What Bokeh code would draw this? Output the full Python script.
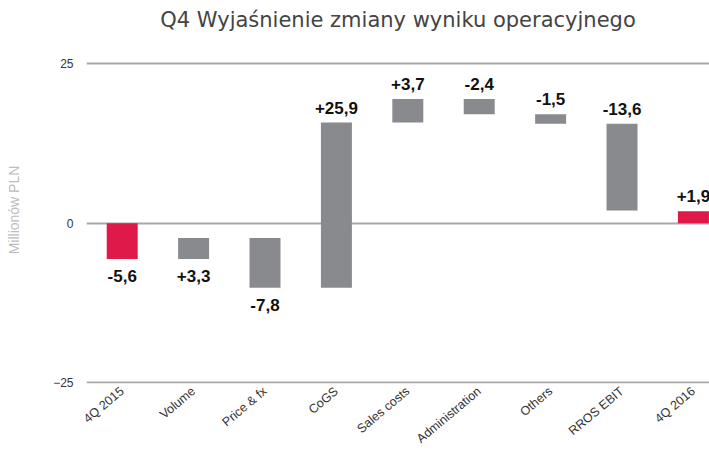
import math
from bokeh.plotting import figure
from bokeh.models import ColumnDataSource, FixedTicker, Range1d
from bokeh.core.properties import value
from bokeh.embed import file_html
from bokeh.resources import INLINE

# ---- data ----
categories = ["4Q 2015", "Volume", "Price & fx", "CoGS", "Sales costs",
              "Administration", "Others", "RROS EBIT", "4Q 2016"]
changes = [-5.6, 3.3, -7.8, 25.9, 3.7, -2.4, -1.5, -13.6, 1.9]
is_total = [True, False, False, False, False, False, False, False, True]
y_ticks = [-25, 0, 25]
title_text = "Q4 Wyjaśnienie zmiany wyniku operacyjnego"
y_title = "Millionów PLN"

# ---- waterfall geometry from the data ----
bottoms, tops = [], []
running = 0.0
for c, tot in zip(changes, is_total):
    if tot:
        b, t = 0.0, c
        running = c
    else:
        b, t = running, running + c
        running = running + c
    bottoms.append(b)
    tops.append(t)

RED = "#e0194b"
GREY = "#898a8e"
xs = list(range(len(categories)))
colors = [RED if t else GREY for t in is_total]
labels = [("+" if c > 0 else "-") + f"{abs(c):.1f}".replace(".", ",") for c in changes]
label_y, label_off = [], []
for b, t in zip(bottoms, tops):
    hi, lo = max(b, t), min(b, t)
    if hi > 0:
        label_y.append(hi)
        label_off.append(-15)
    else:
        label_y.append(lo)
        label_off.append(17)

src = ColumnDataSource(dict(x=xs, bottom=bottoms, top=tops, color=colors,
                            label=labels, ly=label_y, loff=label_off))

p = figure(width=709, height=454, output_backend="svg", toolbar_location=None,
           x_range=Range1d(-0.5, 8.225), y_range=Range1d(-25.12, 29.3),
           min_border_left=86, min_border_right=0, min_border_top=0,
           min_border_bottom=0)

p.vbar(x="x", bottom="bottom", top="top", width=0.434, color="color",
       line_color=None, source=src)
p.text(x="x", y="ly", text="label", y_offset="loff", source=src,
       text_align="center", text_baseline="alphabetic",
       text_font=value("Liberation Sans"), text_font_size="17px",
       text_font_style="bold", text_color="#111111")

# title
p.title.text = title_text
p.title.align = "center"
p.title.text_font = "DejaVu Sans"
p.title.text_font_size = "21px"
p.title.text_font_style = "normal"
p.title.text_color = "#444444"

# axes
p.xaxis.ticker = FixedTicker(ticks=xs)
p.xaxis.major_label_overrides = {i: c for i, c in zip(xs, categories)}
p.xaxis.major_label_orientation = math.radians(40)
p.xaxis.major_label_text_font = "Liberation Sans"
p.xaxis.major_label_text_font_size = "12.5px"
p.xaxis.major_label_text_color = "#333333"
p.xaxis.major_label_standoff = 6
p.xaxis.axis_line_color = None
p.xaxis.major_tick_line_color = None
p.xaxis.major_tick_out = 0
p.xaxis.major_tick_in = 0
p.xaxis.minor_tick_line_color = None

p.yaxis.ticker = FixedTicker(ticks=y_ticks)
p.yaxis.major_label_text_font = "Liberation Sans"
p.yaxis.major_label_text_font_size = "12px"
p.yaxis.major_label_text_color = "#333333"
p.yaxis.major_label_standoff = 13
p.yaxis.major_tick_out = 0
p.yaxis.major_tick_in = 0
p.yaxis.axis_line_color = None
p.yaxis.major_tick_line_color = None
p.yaxis.minor_tick_line_color = None
p.yaxis.axis_label = y_title
p.yaxis.axis_label_text_font = "Liberation Sans"
p.yaxis.axis_label_text_font_size = "14px"
p.yaxis.axis_label_text_font_style = "normal"
p.yaxis.axis_label_text_color = "#bdbdbd"
p.yaxis.axis_label_standoff = 28

p.xgrid.grid_line_color = None
p.ygrid.ticker = FixedTicker(ticks=y_ticks)
p.ygrid.grid_line_color = "#a8a8a8"
p.ygrid.grid_line_width = 2
p.outline_line_color = None
p.background_fill_color = "white"
p.border_fill_color = "white"

open("out.html", "w").write(file_html(p, INLINE))
